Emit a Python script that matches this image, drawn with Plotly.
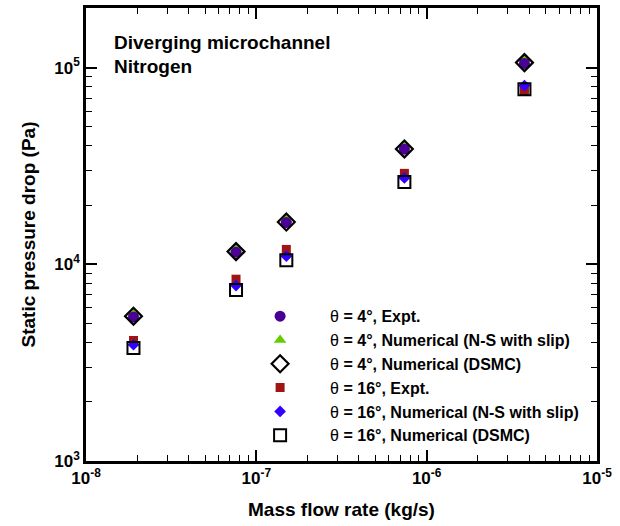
import plotly.graph_objects as go

mdot = [1.9e-8, 7.6e-8, 1.5e-7, 7.4e-7, 3.75e-6]

p4_expt = [5400, 11500, 16300, 38500, 105000]
p4_ns = [5650, 11900, 16900, 40000, 111000]
p4_dsmc = [5450, 11600, 16400, 38600, 106000]

p16_expt = [4100, 8400, 11900, 29000, 76000]
p16_ns = [3900, 7800, 11000, 27500, 81000]
p16_dsmc = [3750, 7400, 10500, 26200, 77500]

xtick_vals = [1e-8, 1e-7, 1e-6, 1e-5]
xtick_text = ["<b>10<sup>-8</sup></b>", "<b>10<sup>-7</sup></b>", "<b>10<sup>-6</sup></b>", "<b>10<sup>-5</sup></b>"]
ytick_vals = [1e3, 1e4, 1e5]
ytick_text = ["<b>10<sup>3</sup></b>", "<b>10<sup>4</sup></b>", "<b>10<sup>5</sup></b>"]

FONT = "Arial, Liberation Sans"

def lbl(angle, txt):
    return "θ<b> = %s°, %s</b>" % (angle, txt)

fig = go.Figure()

fig.add_trace(go.Scatter(x=mdot, y=p4_ns, mode="markers", name=lbl(4, "Numerical (N-S with slip)"),
                         legendrank=2,
                         marker=dict(symbol="triangle-up", size=11, color="#66CC00")))
fig.add_trace(go.Scatter(x=mdot, y=p4_expt, mode="markers", name=lbl(4, "Expt."),
                         legendrank=1,
                         marker=dict(symbol="circle", size=11, color="#4B0096")))
fig.add_trace(go.Scatter(x=mdot, y=p4_dsmc, mode="markers", name=lbl(4, "Numerical (DSMC)"),
                         legendrank=3,
                         marker=dict(symbol="diamond-open", size=13, color="black", line=dict(width=2.2, color="black"))))
fig.add_trace(go.Scatter(x=mdot, y=p16_expt, mode="markers", name=lbl(16, "Expt."),
                         legendrank=4,
                         marker=dict(symbol="square", size=9, color="#A01414")))
fig.add_trace(go.Scatter(x=mdot, y=p16_ns, mode="markers", name=lbl(16, "Numerical (N-S with slip)"),
                         legendrank=5,
                         marker=dict(symbol="diamond", size=9, color="#3300FF")))
fig.add_trace(go.Scatter(x=mdot, y=p16_dsmc, mode="markers", name=lbl(16, "Numerical (DSMC)"),
                         legendrank=6,
                         marker=dict(symbol="square-open", size=12, color="black", line=dict(width=2, color="black"))))

minor_x = [m * 10**e for e in (-8, -7, -6) for m in range(2, 10)]
minor_y = [m * 10**e for e in (3, 4, 5) for m in range(2, 10)]

axis_common = dict(type="log", showgrid=False, zeroline=False, showline=True,
                   linecolor="black", linewidth=2.5, mirror="allticks",
                   ticks="inside", ticklen=11, tickwidth=2, tickcolor="black",
                   tickfont=dict(family=FONT, size=17, color="black"))

fig.update_xaxes(range=[-8, -5], tickmode="array", tickvals=xtick_vals, ticktext=xtick_text,
                 minor=dict(tickmode="array", tickvals=minor_x, ticks="inside", ticklen=6, tickwidth=1.2, tickcolor="black"),
                 title=dict(text="<b>Mass flow rate (kg/s)</b>", font=dict(family=FONT, size=19, color="black"), standoff=16),
                 **axis_common)
fig.update_yaxes(range=[3, 5.303], tickmode="array", tickvals=ytick_vals, ticktext=ytick_text,
                 minor=dict(tickmode="array", tickvals=minor_y, ticks="inside", ticklen=6, tickwidth=1.2, tickcolor="black"),
                 title=dict(text="<b>Static pressure drop (Pa)</b>", font=dict(family=FONT, size=19, color="black"), standoff=14),
                 **axis_common)

fig.add_annotation(x=0.05, y=(461 - 40) / 456, xref="paper", yref="paper", xanchor="left", yanchor="middle",
                   text="<b>Diverging microchannel</b>", showarrow=False,
                   font=dict(family=FONT, size=19, color="black"))
fig.add_annotation(x=0.05, y=(461 - 64) / 456, xref="paper", yref="paper", xanchor="left", yanchor="middle",
                   text="<b>Nitrogen</b>", showarrow=False,
                   font=dict(family=FONT, size=19, color="black"))

fig.update_layout(
    width=620, height=526,
    margin=dict(l=86, r=23, t=5, b=65),
    paper_bgcolor="white", plot_bgcolor="white",
    showlegend=True,
    legend=dict(x=0.282, y=0.357, xanchor="left", yanchor="top", bgcolor="rgba(0,0,0,0)",
                font=dict(family=FONT, size=16, color="black"),
                tracegroupgap=0, itemwidth=90, traceorder="normal"),
)

fig.write_html("out.html")
